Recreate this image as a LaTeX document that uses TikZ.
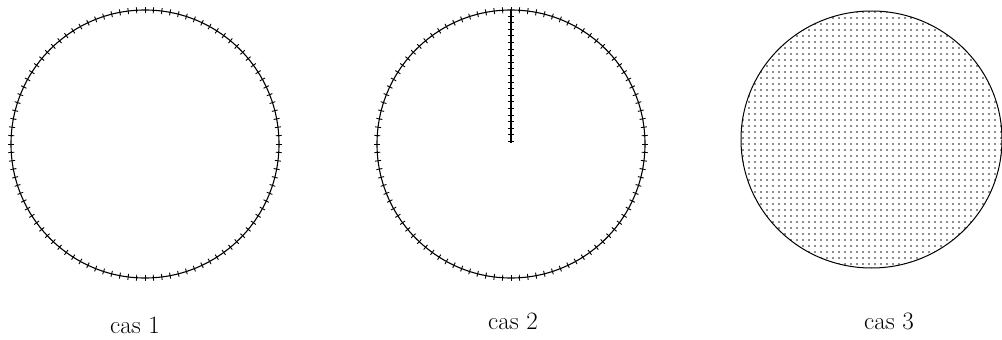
\documentclass[tikz,border=0pt]{standalone}
\usepackage{tikz}
\usetikzlibrary{calc, positioning}

\begin{document}
\begin{tikzpicture}[x=1pt, y=-1pt, font=\fontsize{25}{30}\selectfont,
		rim/.style={circle, draw, line width=1.1pt, inner sep=0pt, minimum size=268pt},
		tick/.style={line width=0.9pt}]
	\useasboundingbox (0,0) rectangle (1002,340);
	% cas 1
	\node[rim] (disc1) at (145,144) {};
	\foreach \a in {0,3.6,...,359}
	\draw[tick] ($(disc1.center)+(\a:131)$) -- ($(disc1.center)+(\a:137)$);
	\node (lab1) at (135,325) {cas 1};
	% cas 2
	\node[rim] (disc2) at (511,144) {};
	\foreach \a in {0,3.6,...,359}
	\draw[tick] ($(disc2.center)+(\a:131)$) -- ($(disc2.center)+(\a:137)$);
	\coordinate (tip2) at (511,143);
	\draw[line width=1.1pt] (disc2.north) -- (tip2);
	\foreach \y in {0,1,...,19}
	\draw[tick] ($(disc2.north)+(-3,6.6*\y+6.6)$) -- ($(disc2.north)+(3,6.6*\y+6.6)$);
	\node (lab2) at (513,321.5) {cas 2};
	% cas 3
	\coordinate (disc3) at (871.5,139.5);
	\begin{scope}
		\clip (disc3) ellipse [x radius=130.5, y radius=128.5];
		\foreach \x in {0,...,44}
		\foreach \y in {0,...,43}
		\fill[black!90] (743+6*\x,12+6*\y) circle (0.85pt);
	\end{scope}
	\draw[line width=1pt] (disc3) ellipse [x radius=130.5, y radius=128.5];
	\node (lab3) at (889,321.5) {cas 3};
\end{tikzpicture}
\end{document}
